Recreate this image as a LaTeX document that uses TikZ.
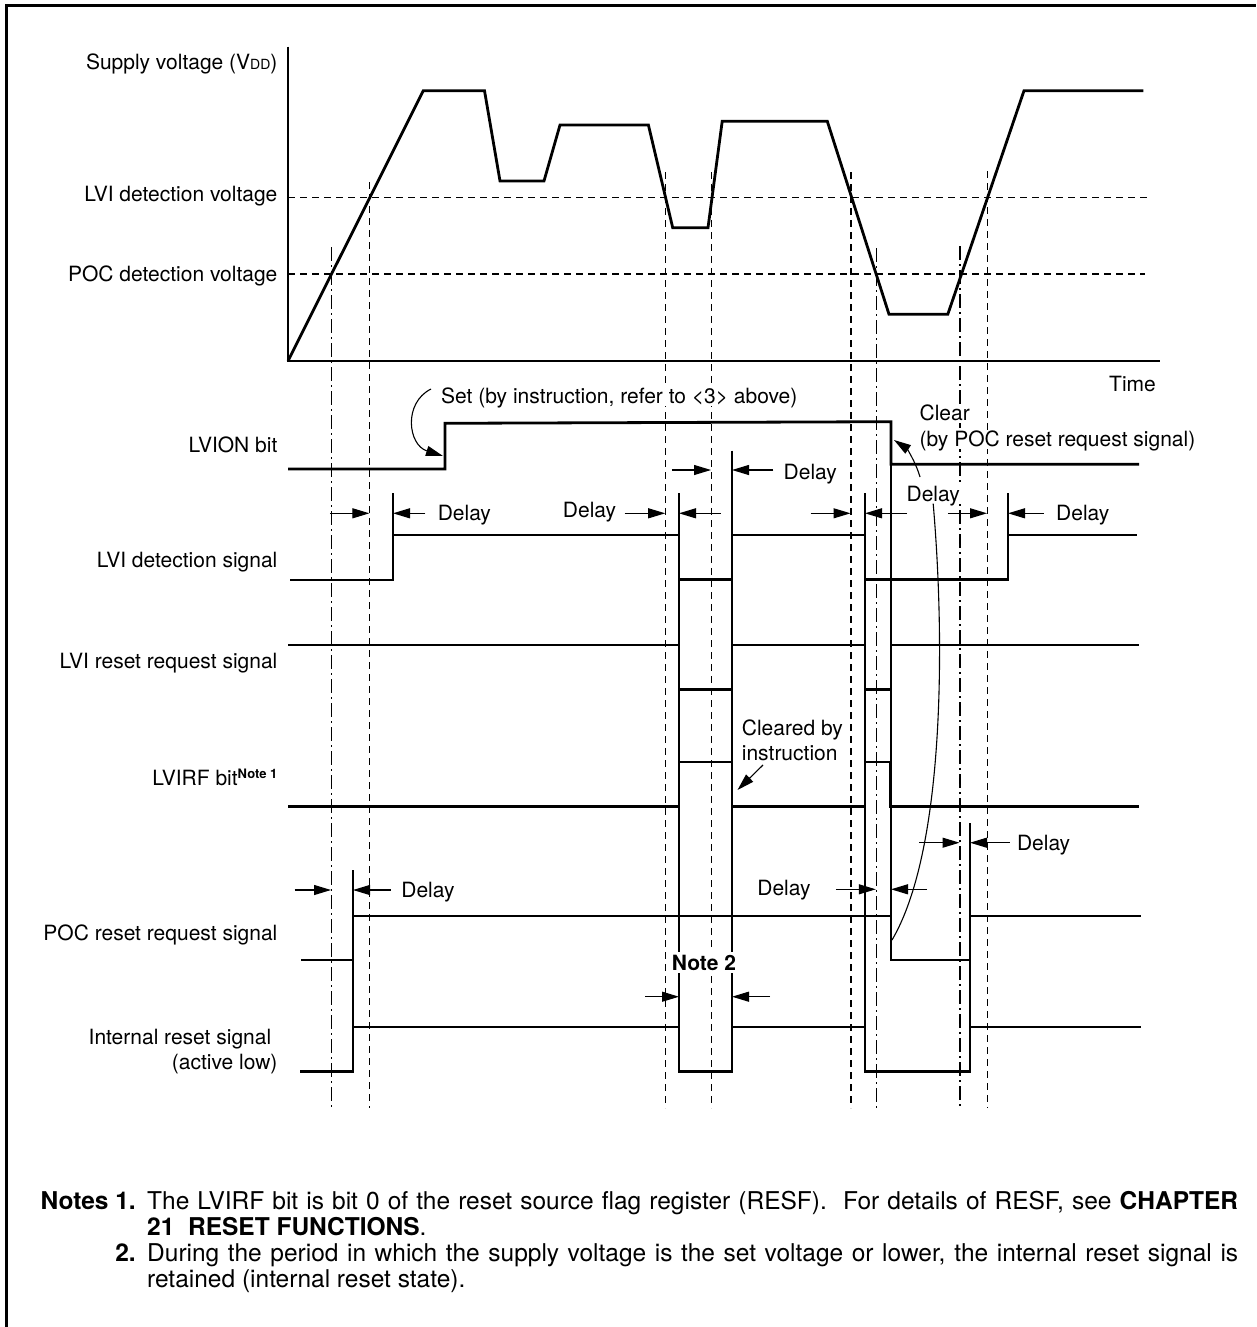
\documentclass[tikz,border=0pt]{standalone}
\usepackage{fontspec}
\setmainfont{TeX Gyre Heros}
\usetikzlibrary{arrows.meta}
\newcommand\lblfont{\fontsize{21}{25}\selectfont}
\newcommand\ddfont{\fontsize{14}{14}\selectfont}
\newcommand\supfont{\fontsize{13}{13}\selectfont\bfseries}
\newcommand\notefont{\fontsize{24.5}{26}\selectfont}
\begin{document}
\begin{tikzpicture}[x=1pt,y=-1pt,
  sig/.style={line width=2.8pt, line join=miter, line cap=butt},
  thinl/.style={line width=1.1pt},
  gdash/.style={line width=1.1pt, dash pattern=on 7pt off 5pt},
  gdot/.style={line width=1.1pt, dash pattern=on 14pt off 4pt on 2pt off 4pt},
  tip/.style={-{Triangle[length=17pt,width=10pt]}, line width=1.1pt},
  lbl/.style={font=\lblfont, text height=15pt, text depth=0pt, inner sep=0pt},
  wlbl/.style={lbl, fill=white, inner sep=2pt}]
\useasboundingbox (0,0) rectangle (1256,1327);
\fill[white] (0,0) rectangle (1256,1327);
% frame
\draw[line width=3pt] (6,1327) -- (6,6) -- (1256,6);

% horizontal detection levels
\draw[gdash] (288,197.7) -- (1149,197.7);
\draw[gdash] (288,274) -- (1145,274);

% vertical guides
\draw[gdot]  (331.5,247) -- (331.5,1108);
\draw[gdash] (369.7,182) -- (369.7,1108);
\draw[gdash] (665.7,172) -- (665.7,1108);
\draw[gdash] (711.5,172) -- (711.5,1108);
\draw[gdash] (851,172) -- (851,1108);
\draw[gdot]  (876.2,248) -- (876.2,1108);
\draw[gdot]  (960,246) -- (960,1108);
\draw[gdash] (987.5,171) -- (987.5,1108);

% thin edge lines
\draw[thinl] (353,870) -- (353,1071.7);
\draw[thinl] (393,493) -- (393,535);
\draw[thinl] (679,493) -- (679,1071.7);
\draw[thinl] (732,450.7) -- (732,1071.7);
\draw[thinl] (865,493) -- (865,1071.7);
\draw[thinl] (891,464) -- (891,960);
\draw[thinl] (970,823) -- (970,1071.7);
\draw[thinl] (1008,493) -- (1008,535);

% axes
\draw[sig] (288,46.7) -- (288,361) -- (1160,361);
% supply voltage
\draw[sig] (288,361) -- (423.3,90.7) -- (484.5,90.7) -- (500,181) -- (544,181)
  -- (560,125) -- (648.4,125) -- (672.7,227.7) -- (708,227.7) -- (722.2,121.3)
  -- (827.3,121.3) -- (889,314.3) -- (947.8,314.3) -- (1024,90.7) -- (1143.3,90.7);

% LVION bit
\draw[sig] (288,469) -- (445,469) -- (445,423.3) -- (891,421.7) -- (891,464.3) -- (1139,464.3);
% LVI detection signal
\draw[sig] (290,580) -- (393,580) -- (393,535) -- (679,535) -- (679,579.3) -- (732,579.3)
  -- (732,535) -- (865,535) -- (865,579.3) -- (1008,579.3) -- (1008,535) -- (1137,535);
% LVI reset request signal
\draw[sig] (288,645) -- (679,645) -- (679,689.5) -- (732,689.5) -- (732,645) -- (865,645)
  -- (865,689.5) -- (891,689.5) -- (891,645) -- (1139,645);
% LVIRF bit
\draw[sig] (288,806.7) -- (679,806.7) -- (679,762) -- (732,762) -- (732,806.7) -- (865,806.7)
  -- (865,762) -- (890,762) -- (890,806.7) -- (1139,806.7);
% POC reset request signal
\draw[sig] (301,960) -- (353,960) -- (353,916) -- (891,916) -- (891,960) -- (970,960)
  -- (970,916) -- (1141,916);
% Internal reset signal
\draw[sig] (300,1071.7) -- (353,1071.7) -- (353,1027) -- (679,1027) -- (679,1071.7)
  -- (732,1071.7) -- (732,1027) -- (865,1027) -- (865,1071.7) -- (970,1071.7)
  -- (970,1027) -- (1141,1027);

% delay markers
\draw[tip] (329.8,513.3) -- (369.4,513.3);  \draw[tip] (425.3,513.3) -- (393,513.3);
\draw[tip] (624.5,513.3) -- (665.2,513.3);  \draw[tip] (720.6,513.3) -- (679,513.3);
\draw[tip] (671.9,470) -- (711,470);        \draw[tip] (773.3,470) -- (732,470);
\draw[tip] (810.7,513.3) -- (850.5,513.3);  \draw[tip] (907.2,513.3) -- (865,513.3);
\draw[tip] (947.8,513.3) -- (987,513.3);    \draw[tip] (1043.9,513.3) -- (1008,513.3);
\draw[tip] (294.7,890) -- (331,890);        \draw[tip] (390.6,890) -- (353,890);
\draw[tip] (835.8,889.3) -- (875.8,889.3);  \draw[tip] (927.1,889.3) -- (891,889.3);
\draw[tip] (919,842.7) -- (959.5,842.7);    \draw[tip] (1009.5,842.7) -- (970,842.7);
\draw[tip] (645.2,996.7) -- (679,996.7);    \draw[tip] (770.1,996.7) -- (732,996.7);

% labels left
\node[lbl, anchor=east] (vdd) at (277.6,61.7) {Supply voltage (V{\ddfont DD})};
\node[lbl, anchor=east] (lvilev) at (277.6,194) {LVI detection voltage};
\node[lbl, anchor=east] (poclev) at (277.6,274) {POC detection voltage};
\node[lbl, anchor=east] (lvion) at (277.6,445) {LVION bit};
\node[lbl, anchor=east] (lvidet) at (277.6,560) {LVI detection signal};
\node[lbl, anchor=east] (lvires) at (277.6,660.7) {LVI reset request signal};
\node[lbl, anchor=east] (lvirf) at (277.6,778.3) {LVIRF bit\smash{\raisebox{7pt}{\supfont Note 1}}};
\node[lbl, anchor=east] (pocres) at (277.6,933.3) {POC reset request signal};
\node[lbl, anchor=east] (intres) at (271.4,1036.7) {Internal reset signal};
\node[lbl, anchor=east] (actlow) at (277.6,1061.7) {(active low)};
\node[lbl, anchor=west] (time) at (1109,384) {Time};

% annotation texts
\node[wlbl, anchor=west] (settxt) at (439,396) {Set (by instruction, refer to \textless3\textgreater\ above)};
\node[wlbl, anchor=west] (clr1) at (917.4,413.3) {Clear};
\node[wlbl, anchor=west] (clr2) at (917.4,439.3) {(by POC reset request signal)};
\node[lbl, anchor=west] (clrd1) at (741.7,727.7) {Cleared by};
\node[lbl, anchor=west] (clrd2) at (741.7,752.7) {instruction};
\node[lbl, anchor=west] (d1) at (437.6,513) {Delay};
\node[lbl, anchor=east] (d2) at (616.3,510) {Delay};
\node[lbl, anchor=west] (d3) at (783.5,471.7) {Delay};
\node[wlbl, anchor=west] (d4) at (904.4,494) {Delay};
\node[lbl, anchor=west] (d5) at (1056,513.3) {Delay};
\node[lbl, anchor=west] (d6) at (401.2,890) {Delay};
\node[lbl, anchor=east] (d7) at (810.7,888.3) {Delay};
\node[lbl, anchor=west] (d8) at (1016.8,843.3) {Delay};
\node[wlbl, font=\lblfont\bfseries, inner sep=3pt] (note2) at (704,962.7) {Note 2};

% curved arrows
\draw[tip] (431,389) .. controls (403,403) and (408,445) .. (443,456);
\draw[tip] (920,477) .. controls (915,460) and (906,448) .. (894,440);
\draw[tip] (763,765) -- (737.5,790);
\draw[thinl] (d4.south) .. controls (945,640) and (945,850) .. (892,940);

% notes
\node[font=\notefont\bfseries, inner sep=0pt, anchor=base east] (n1) at (136,1209) {Notes 1.};
\node[font=\notefont, inner sep=0pt, anchor=base west] (n1t) at (147,1209)
  {\makebox[1091pt][s]{The LVIRF bit is bit 0 of the reset source flag register (RESF).\ \ For details of RESF, see \textbf{CHAPTER}}};
\node[font=\notefont, inner sep=0pt, anchor=base west] (n1u) at (147,1235) {\textbf{21\ \ RESET FUNCTIONS}.};
\node[font=\notefont\bfseries, inner sep=0pt, anchor=base east] (n2) at (136,1261) {2.};
\node[font=\notefont, inner sep=0pt, anchor=base west] (n2t) at (147,1261)
  {\makebox[1091pt][s]{During the period in which the supply voltage is the set voltage or lower, the internal reset signal is}};
\node[font=\notefont, inner sep=0pt, anchor=base west] (n2u) at (147,1287) {retained (internal reset state).};
\end{tikzpicture}
\end{document}
